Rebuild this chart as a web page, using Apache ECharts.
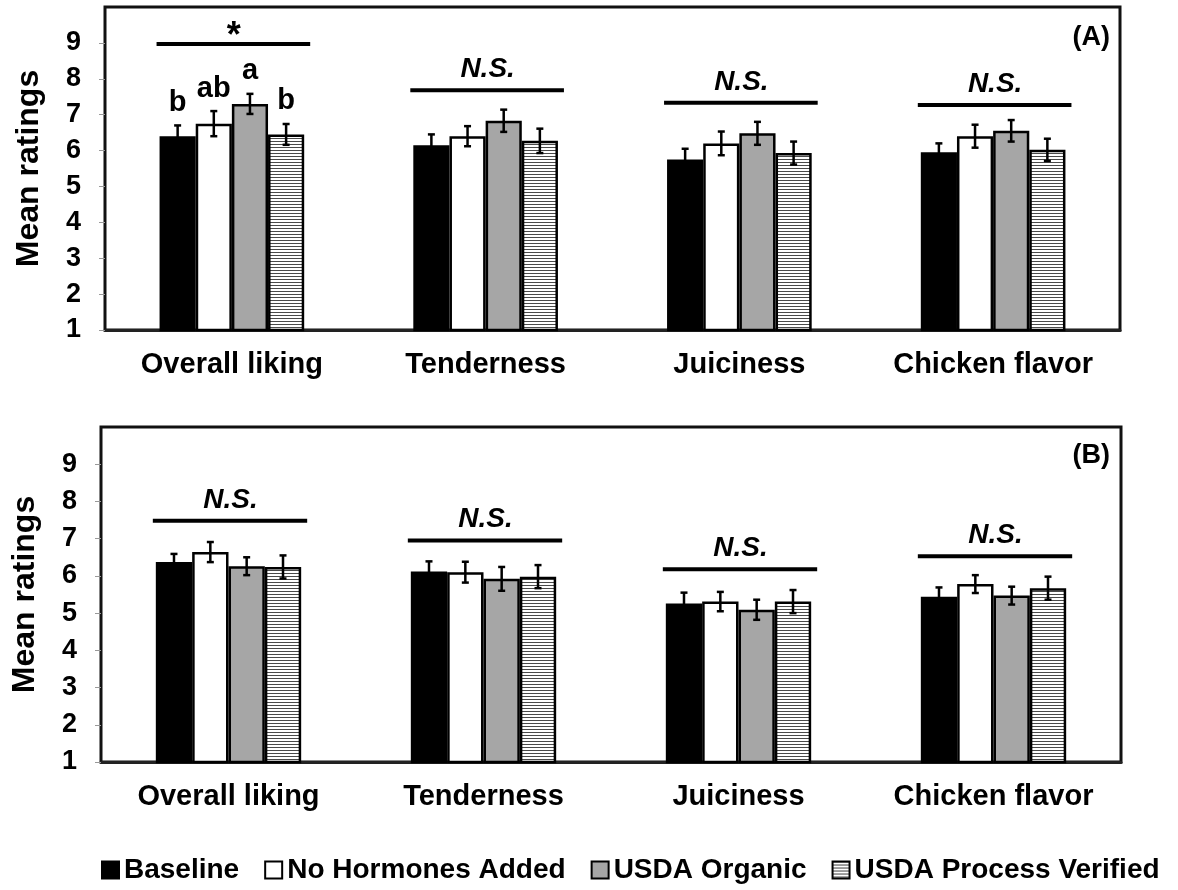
<!DOCTYPE html>
<html>
<head>
<meta charset="utf-8">
<script src="https://cdn.jsdelivr.net/npm/echarts@6/dist/echarts.min.js"></script>
<style>
html,body{margin:0;padding:0;background:#fff;}
#chart{width:1178px;height:890px;}
</style>
</head>
<body>
<div id="chart"></div>
<script>
// ---------- DATA ----------
const categories = ['Overall liking', 'Tenderness', 'Juiciness', 'Chicken flavor'];
const seriesNames = ['Baseline', 'No Hormones Added', 'USDA Organic', 'USDA Process Verified'];
const yTicks = [1, 2, 3, 4, 5, 6, 7, 8, 9];
const panelLabels = ['(A)', '(B)'];

// Panel A means
const aBaseline = [6.40, 6.15, 5.75, 5.95];
const aNoHormones = [6.75, 6.40, 6.20, 6.40];
const aOrganic = [7.30, 6.83, 6.48, 6.55];
const aProcess = [6.45, 6.27, 5.93, 6.02];
// Panel A standard errors
const aBaselineErr = [0.30, 0.30, 0.30, 0.25];
const aNoHormonesErr = [0.35, 0.28, 0.33, 0.32];
const aOrganicErr = [0.28, 0.31, 0.32, 0.30];
const aProcessErr = [0.29, 0.34, 0.32, 0.31];

// Panel B means
const bBaseline = [6.37, 6.12, 5.26, 5.44];
const bNoHormones = [6.64, 6.10, 5.31, 5.78];
const bOrganic = [6.26, 5.92, 5.09, 5.47];
const bProcess = [6.24, 5.98, 5.31, 5.67];
// Panel B standard errors
const bBaselineErr = [0.22, 0.27, 0.29, 0.25];
const bNoHormonesErr = [0.27, 0.28, 0.26, 0.24];
const bOrganicErr = [0.24, 0.32, 0.27, 0.24];
const bProcessErr = [0.31, 0.31, 0.31, 0.31];

// Significance annotations (text and bar height in rating units)
const sigTextA = ['*', 'N.S.', 'N.S.', 'N.S.'];
const sigLevelA = [8.97, 7.68, 7.33, 7.27];
const sigTextB = ['N.S.', 'N.S.', 'N.S.', 'N.S.'];
const sigLevelB = [7.48, 6.95, 6.18, 6.53];
// Letter groupings (only Overall liking in panel A)
const lettersA = [['b', 'ab', 'a', 'b'], null, null, null];

// ---------- STYLE ----------
const FONT = '"Liberation Sans", Arial, Helvetica, sans-serif';
const CAT_GAP = 0.43;

const hatch = document.createElement('canvas');
hatch.width = 8; hatch.height = 3;
(function () {
  const g = hatch.getContext('2d');
  g.fillStyle = '#ffffff'; g.fillRect(0, 0, 8, 3);
  g.fillStyle = '#4a4a4a'; g.fillRect(0, 0, 8, 1);
})();

const fills = ['#000000', '#ffffff', '#a6a6a6', { image: hatch, repeat: 'repeat' }];

const panels = [
  { means: [aBaseline, aNoHormones, aOrganic, aProcess], errs: [aBaselineErr, aNoHormonesErr, aOrganicErr, aProcessErr], sigText: sigTextA, sigLevel: sigLevelA, letters: lettersA },
  { means: [bBaseline, bNoHormones, bOrganic, bProcess], errs: [bBaselineErr, bNoHormonesErr, bOrganicErr, bProcessErr], sigText: sigTextB, sigLevel: sigLevelB, letters: [null, null, null, null] }
];

const grids = [
  { left: 105, top: 7, width: 1015, height: 323 },
  { left: 101, top: 427, width: 1020, height: 335 }
];

function makeErrRender(panel) {
  return function (params, api) {
    const c = api.value(0), s = api.value(1), m = api.value(2), e = api.value(3);
    const band = api.size([1, 0])[0];
    const bw = band * (1 - CAT_GAP) / 4;
    const x = api.coord([c, m])[0] + (s - 1.5) * bw;
    const yt = api.coord([c, m + e])[1];
    const yb = api.coord([c, m - e])[1];
    const cap = 3.5;
    const st = { stroke: '#000', lineWidth: 2.5 };
    const children = [
      { type: 'line', shape: { x1: x, y1: yt, x2: x, y2: yb }, style: st },
      { type: 'line', shape: { x1: x - cap, y1: yt, x2: x + cap, y2: yt }, style: st },
      { type: 'line', shape: { x1: x - cap, y1: yb, x2: x + cap, y2: yb }, style: st }
    ];
    const lt = panel.letters[c];
    if (lt) {
      children.push({
        type: 'text',
        style: { x: x, y: yt - 8, text: lt[s], fill: '#000', font: 'bold 29px ' + FONT, align: 'center', verticalAlign: 'bottom' }
      });
    }
    return { type: 'group', children: children };
  };
}

function makeSigRender(panel) {
  return function (params, api) {
    const c = api.value(0), lvl = api.value(1);
    const band = api.size([1, 0])[0];
    const bw = band * (1 - CAT_GAP) / 4;
    const pt = api.coord([c, lvl]);
    const txt = panel.sigText[params.dataIndex];
    const isStar = txt === '*';
    return {
      type: 'group',
      children: [
        { type: 'line', shape: { x1: pt[0] - 2 * bw - 3, y1: pt[1], x2: pt[0] + 2 * bw + 6, y2: pt[1] }, style: { stroke: '#000', lineWidth: 4 } },
        {
          type: 'text',
          style: {
            x: pt[0] + 2, y: pt[1] - (isStar ? 7 : 21), text: txt, fill: '#000',
            font: (isStar ? 'bold 36px ' : 'italic bold 28px ') + FONT,
            align: 'center', verticalAlign: 'middle'
          }
        }
      ]
    };
  };
}

const option = {
  animation: false,
  backgroundColor: '#ffffff',
  textStyle: { fontFamily: FONT },
  grid: grids.map(g => Object.assign({ show: true, borderColor: '#111', borderWidth: 3, backgroundColor: 'transparent' }, g)),
  legend: {
    left: 96, top: 851,
    icon: 'rect', itemWidth: 17, itemHeight: 17, itemGap: 25,
    data: seriesNames,
    itemStyle: { borderWidth: 2, borderColor: '#000' },
    textStyle: { fontSize: 28, fontWeight: 'bold', color: '#000', fontFamily: FONT }
  },
  graphic: [
    { type: 'text', right: 68, top: 24, style: { text: panelLabels[0], font: 'bold 27px ' + FONT, fill: '#000' } },
    { type: 'text', right: 68, top: 442, style: { text: panelLabels[1], font: 'bold 27px ' + FONT, fill: '#000' } }
  ],
  xAxis: [0, 1].map(i => ({
    type: 'category', gridIndex: i, data: categories,
    axisLine: { lineStyle: { color: '#222', width: 3 } },
    axisTick: { show: false },
    axisLabel: { interval: 0, color: '#000', fontSize: 29, fontWeight: 'bold', fontFamily: FONT, margin: 20 }
  })),
  yAxis: [0, 1].map(i => ({
    type: 'value', gridIndex: i, min: 1, max: 10, interval: 1,
    name: 'Mean ratings', nameLocation: 'middle', nameGap: 60,
    nameTextStyle: { color: '#000', fontSize: 32, fontWeight: 'bold', fontFamily: FONT },
    axisLine: { show: true, lineStyle: { color: '#111', width: 2 } },
    axisTick: { show: true, length: 6, lineStyle: { color: '#999', width: 1 }, customValues: yTicks },
    axisLabel: { color: '#000', fontSize: 27, fontWeight: 'bold', fontFamily: FONT, margin: 24, customValues: yTicks,
      formatter: v => (v >= 10 ? '' : String(v)) },
    splitLine: { show: false }
  })),
  series: []
};

panels.forEach((p, pi) => {
  seriesNames.forEach((nm, si) => {
    option.series.push({
      type: 'bar', name: nm, xAxisIndex: pi, yAxisIndex: pi,
      data: p.means[si],
      barGap: '0%', barCategoryGap: (CAT_GAP * 100) + '%',
      itemStyle: { color: fills[si], borderColor: '#000', borderWidth: 2.5 },
      z: 2
    });
  });
  const errData = [];
  categories.forEach((c, ci) => {
    seriesNames.forEach((nm, si) => {
      errData.push([ci, si, p.means[si][ci], p.errs[si][ci]]);
    });
  });
  option.series.push({
    type: 'custom', name: 'err' + pi, xAxisIndex: pi, yAxisIndex: pi,
    renderItem: makeErrRender(p), data: errData, encode: { x: 0, y: 2 }, z: 5, silent: true
  });
  option.series.push({
    type: 'custom', name: 'sig' + pi, xAxisIndex: pi, yAxisIndex: pi,
    renderItem: makeSigRender(p), data: categories.map((c, ci) => [ci, p.sigLevel[ci]]),
    encode: { x: 0, y: 1 }, z: 5, silent: true
  });
});

const chart = echarts.init(document.getElementById('chart'), null, { renderer: 'canvas' });
chart.setOption(option);
</script>
</body>
</html>
